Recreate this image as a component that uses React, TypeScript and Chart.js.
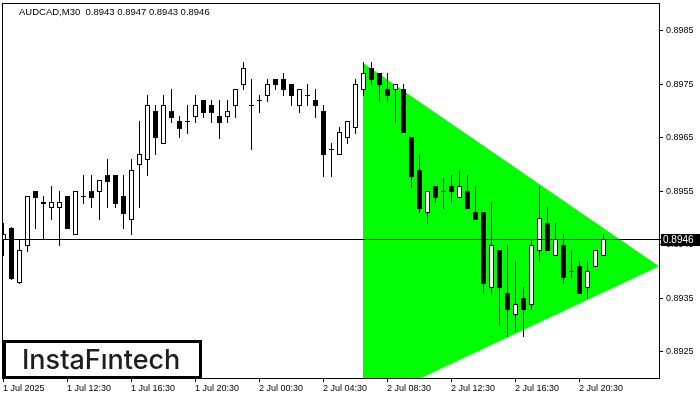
import React, { useEffect, useRef } from "react";
import { Chart, registerables } from "chart.js";

Chart.register(...registerables);

const symbolTitle = "AUDCAD,M30  0.8943 0.8947 0.8943 0.8946";
const logoText = "InstaFıntech";

const openP = [
  0.89461, 0.89482, 0.89381, 0.8945, 0.89551, 0.89529, 0.89521, 0.89521, 0.89542, 0.89471,
  0.89542, 0.89551, 0.89551, 0.89581, 0.89581, 0.89542, 0.89499, 0.89601, 0.89611, 0.897,
  0.89641, 0.897, 0.89682, 0.89682, 0.89691, 0.89721, 0.89712, 0.89691, 0.89691, 0.89712,
  0.89751, 0.89712, 0.89721, 0.8973, 0.8976, 0.8976, 0.89751, 0.89712, 0.8973, 0.89721,
  0.897, 0.89629, 0.8962, 0.89652, 0.89671, 0.89742, 0.89781, 0.89771, 0.89742, 0.89742,
  0.89742, 0.89652, 0.8959, 0.89512, 0.8956, 0.89551, 0.8956, 0.8954, 0.89551, 0.89512,
  0.89512, 0.89371, 0.89441, 0.8936, 0.89321, 0.89351, 0.8934, 0.89441, 0.89491, 0.89431,
  0.8945, 0.89401, 0.89411, 0.89371, 0.89411, 0.8943,
];
const highP = [
  0.89491, 0.89484, 0.89461, 0.89542, 0.89551, 0.89542, 0.8956, 0.89551, 0.89542, 0.89551,
  0.89581, 0.89581, 0.89571, 0.89611, 0.89581, 0.89581, 0.89611, 0.89682, 0.8973, 0.89712,
  0.8973, 0.89742, 0.89691, 0.89712, 0.8973, 0.89721, 0.89721, 0.89721, 0.89721, 0.89742,
  0.89792, 0.8976, 0.8973, 0.8976, 0.8976, 0.89771, 0.89751, 0.89742, 0.89751, 0.89742,
  0.89712, 0.89641, 0.89671, 0.89682, 0.8976, 0.89792, 0.89792, 0.89771, 0.89771, 0.89751,
  0.89751, 0.89652, 0.8962, 0.89551, 0.8956, 0.89575, 0.89581, 0.8959, 0.89581, 0.8956,
  0.89512, 0.8953, 0.89441, 0.8945, 0.8942, 0.89371, 0.89461, 0.8956, 0.89521, 0.89491,
  0.89471, 0.89441, 0.8942, 0.8942, 0.89441, 0.8947,
];
const lowP = [
  0.89431, 0.89386, 0.89379, 0.89439, 0.89482, 0.89461, 0.89499, 0.8945, 0.89482, 0.89471,
  0.89529, 0.89521, 0.89499, 0.89521, 0.89521, 0.89482, 0.89471, 0.89521, 0.89581, 0.8962,
  0.89641, 0.8968, 0.89652, 0.89659, 0.8968, 0.89689, 0.8968, 0.8965, 0.8968, 0.89689,
  0.89742, 0.89629, 0.89699, 0.89719, 0.89742, 0.8973, 0.89712, 0.89699, 0.89712, 0.89689,
  0.89579, 0.89579, 0.8962, 0.89641, 0.89659, 0.8973, 0.89751, 0.89719, 0.89719, 0.8968,
  0.89661, 0.89558, 0.89512, 0.89491, 0.8953, 0.89519, 0.8953, 0.8954, 0.89519, 0.89499,
  0.8936, 0.8936, 0.893, 0.8928, 0.89289, 0.8928, 0.8933, 0.8942, 0.89441, 0.89431,
  0.89379, 0.8939, 0.8936, 0.89351, 0.89411, 0.8943,
];
const closeP = [
  0.89471, 0.89388, 0.89441, 0.89542, 0.8954, 0.8953, 0.8953, 0.8953, 0.89482, 0.89551,
  0.89542, 0.8954, 0.89571, 0.8957, 0.89529, 0.8951, 0.8959, 0.8962, 0.89712, 0.89652,
  0.89712, 0.89689, 0.89669, 0.89681, 0.89712, 0.89699, 0.89699, 0.8968, 0.897, 0.89742,
  0.89781, 0.89712, 0.89721, 0.89751, 0.89751, 0.89742, 0.8973, 0.89742, 0.8973, 0.89712,
  0.8962, 0.89629, 0.89661, 0.89682, 0.89751, 0.89771, 0.8976, 0.89751, 0.8973, 0.89751,
  0.89661, 0.89579, 0.89519, 0.89551, 0.8954, 0.89551, 0.89551, 0.8956, 0.89519, 0.89499,
  0.89379, 0.8945, 0.89371, 0.8933, 0.8934, 0.8933, 0.8945, 0.895, 0.89441, 0.89461,
  0.8939, 0.89401, 0.8936, 0.89401, 0.89441, 0.8946,
];

const xTickPos = [0, 8, 16, 24, 32, 40, 48, 56, 64, 72];
const xTickLabels = [
  "1 Jul 2025",
  "1 Jul 12:30",
  "1 Jul 16:30",
  "1 Jul 20:30",
  "2 Jul 00:30",
  "2 Jul 04:30",
  "2 Jul 08:30",
  "2 Jul 12:30",
  "2 Jul 16:30",
  "2 Jul 20:30",
];
const yTickValues = [0.8925, 0.8935, 0.8945, 0.8955, 0.8965, 0.8975, 0.8985];

const triangleX = [45, 82, 45];
const triangleY = [0.8979, 0.8941, 0.8915];
const currentPrice = 0.8946;

const axisFont = { family: "Liberation Sans", size: 9 };

const bgPlugin = {
  id: "bg",
  beforeDraw(chart: any) {
    const { ctx, width, height } = chart;
    ctx.save();
    ctx.fillStyle = "#ffffff";
    ctx.fillRect(0, 0, width, height);
    ctx.restore();
  },
};

const candlePlugin = {
  id: "candles",
  afterDatasetsDraw(chart: any) {
    const { ctx, chartArea, scales } = chart;
    const xs = scales.x;
    const ys = scales.y;
    ctx.save();
    ctx.beginPath();
    ctx.rect(chartArea.left, chartArea.top, chartArea.right - chartArea.left, chartArea.bottom - chartArea.top);
    ctx.clip();
    for (let i = 0; i < openP.length; i++) {
      const cx = Math.round(xs.getPixelForValue(i));
      const yo = Math.round(ys.getPixelForValue(openP[i]));
      const yc = Math.round(ys.getPixelForValue(closeP[i]));
      const yh = Math.round(ys.getPixelForValue(highP[i]));
      const yl = Math.round(ys.getPixelForValue(lowP[i]));
      ctx.fillStyle = "#000000";
      ctx.fillRect(cx, yh, 1, yl - yh + 1);
      const top = Math.min(yo, yc);
      const bot = Math.max(yo, yc);
      if (bot - top < 1) {
        ctx.fillRect(cx - 2, top, 5, 1);
      } else {
        ctx.fillRect(cx - 2, top, 5, bot - top + 1);
        if (closeP[i] > openP[i] && bot - top > 1) {
          ctx.fillStyle = "#ffffff";
          ctx.fillRect(cx - 1, top + 1, 3, bot - top - 1);
        }
      }
    }
    ctx.restore();
  },
};

const overlayPlugin = {
  id: "overlay",
  afterDraw(chart: any) {
    const { ctx, chartArea, scales } = chart;
    const ys = scales.y;
    ctx.save();
    // frame
    ctx.strokeStyle = "#000000";
    ctx.lineWidth = 1;
    ctx.strokeRect(
      chartArea.left + 0.5,
      chartArea.top + 0.5,
      chartArea.right - chartArea.left,
      chartArea.bottom - chartArea.top
    );
    // current price line
    const py = Math.round(ys.getPixelForValue(currentPrice));
    ctx.fillStyle = "#000000";
    ctx.fillRect(chartArea.left, py, chartArea.right - chartArea.left + 2, 1);
    // price label
    ctx.fillRect(chartArea.right + 2, py - 5, 40, 12);
    ctx.fillStyle = "#ffffff";
    ctx.font = "10px 'Liberation Sans'";
    ctx.textBaseline = "middle";
    ctx.textAlign = "left";
    ctx.fillText(currentPrice.toFixed(4), chartArea.right + 4, py + 1);
    // title
    ctx.fillStyle = "#000000";
    ctx.font = "9.5px 'Liberation Sans'";
    ctx.textBaseline = "alphabetic";
    ctx.fillText(symbolTitle, 19, 14.5);
    // logo
    ctx.fillStyle = "#ffffff";
    ctx.fillRect(3, 340, 199, 39);
    ctx.strokeStyle = "#000000";
    ctx.lineWidth = 3;
    ctx.strokeRect(4.5, 341.5, 196, 36);
    ctx.fillStyle = "#1e1e1e";
    ctx.font = "500 27px Inter";
    ctx.textBaseline = "alphabetic";
    ctx.fillText(logoText, 22, 369);
    ctx.restore();
  },
};

const zeroPadding = (scale: any) => {
  scale.paddingTop = 0;
  scale.paddingBottom = 0;
  scale.paddingLeft = 0;
  scale.paddingRight = 0;
};

export default function App() {
  const canvasRef = useRef<HTMLCanvasElement | null>(null);

  useEffect(() => {
    if (!canvasRef.current) return;
    const chart = new Chart(canvasRef.current, {
      type: "line",
      data: {
        datasets: [
          {
            label: "Triangle",
            data: triangleX.map((x, i) => ({ x, y: triangleY[i] })),
            fill: "shape",
            backgroundColor: "#00ff00",
            borderColor: "#00ff00",
            borderWidth: 0,
            pointRadius: 0,
            tension: 0,
          } as any,
        ],
      },
      options: {
        animation: false,
        responsive: false,
        events: [],
        layout: { padding: { left: 2, top: 3, right: 0, bottom: 0 } },
        plugins: {
          legend: { display: false },
          tooltip: { enabled: false },
          title: { display: false },
        },
        scales: {
          x: {
            type: "linear",
            position: "bottom",
            min: -0.125,
            max: 82,
            afterBuildTicks: (scale: any) => {
              scale.ticks = xTickPos.map((v) => ({ value: v }));
            },
            afterFit: (scale: any) => {
              scale.height = 22;
              zeroPadding(scale);
            },
            ticks: {
              autoSkip: false,
              maxRotation: 0,
              minRotation: 0,
              align: "start",
              padding: 1,
              color: "#000000",
              font: axisFont,
              callback: (_v: any, i: number) => xTickLabels[i],
            },
            grid: {
              display: true,
              drawOnChartArea: false,
              drawTicks: true,
              tickLength: 4,
              color: "#000000",
              lineWidth: 1,
            },
            border: { display: false },
          },
          y: {
            type: "linear",
            position: "right",
            min: 0.89201,
            max: 0.89902,
            afterBuildTicks: (scale: any) => {
              scale.ticks = yTickValues.map((v) => ({ value: v }));
            },
            afterFit: (scale: any) => {
              scale.width = 41;
              zeroPadding(scale);
            },
            ticks: {
              autoSkip: false,
              padding: 3,
              color: "#000000",
              font: axisFont,
              callback: (v: any) => Number(v).toFixed(4),
            },
            grid: {
              display: true,
              drawOnChartArea: false,
              drawTicks: true,
              tickLength: 4,
              color: "#000000",
              lineWidth: 1,
            },
            border: { display: false },
          },
        },
      } as any,
      plugins: [bgPlugin, candlePlugin, overlayPlugin],
    });
    return () => chart.destroy();
  }, []);

  return (
    <div style={{ position: "fixed", left: 0, top: 0, width: 700, height: 400, background: "#fff" }}>
      <canvas ref={canvasRef} width={700} height={400} style={{ display: "block", width: 700, height: 400 }} />
    </div>
  );
}
